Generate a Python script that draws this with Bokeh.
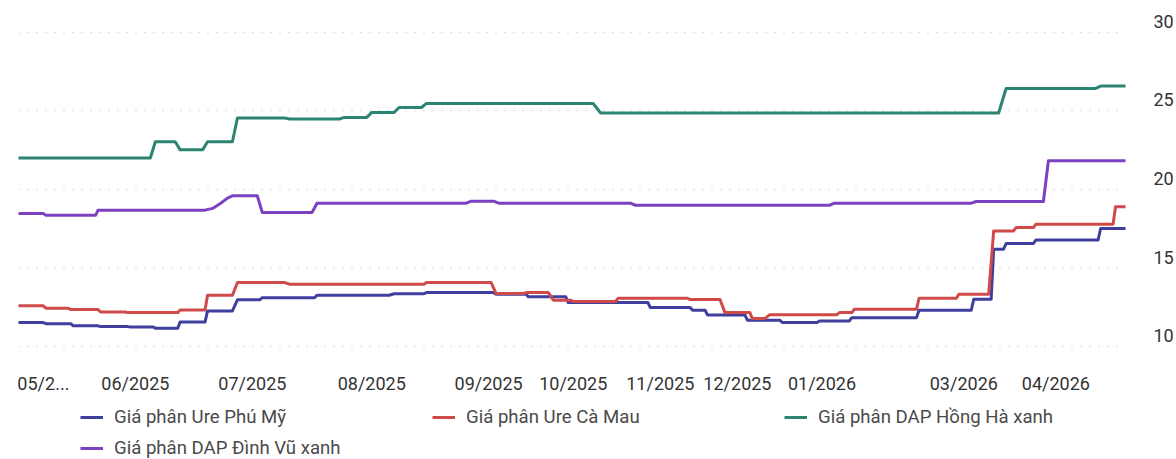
from bokeh.plotting import figure
from bokeh.layouts import column
from bokeh.models import (ColumnDataSource, Range1d, LinearAxis, FixedTicker,
                          Grid, Legend, LegendItem)
from bokeh.embed import file_html
from bokeh.resources import INLINE

# x axis: session index (irregular price-update sessions)
tick_pos = [10, 47, 94, 142, 189, 223, 258, 289, 323, 380, 417]
tick_labels = ["05/2...", "06/2025", "07/2025", "08/2025", "09/2025", "10/2025",
               "11/2025", "12/2025", "01/2026", "03/2026", "04/2026"]
y_ticks = [10, 15, 20, 25, 30]

series_names = ["Giá phân Ure Phú Mỹ", "Giá phân Ure Cà Mau",
                "Giá phân DAP Hồng Hà xanh", "Giá phân DAP Đình Vũ xanh"]
series_colors = ["#3f3f9e", "#d14a4a", "#2b8572", "#7b41c0"]

pm_x = [0, 10, 11, 21, 22, 32, 33, 44, 45, 54, 55, 64, 65, 75, 76, 86, 88, 97, 98, 119,
        120, 149, 151, 163, 164, 191, 192, 204, 205, 220, 221, 253, 254, 270, 271, 276,
        277, 292, 293, 306, 307, 321, 322, 334, 335, 361, 362, 383, 384, 391, 392, 396,
        397, 408, 409, 434, 435, 445]
pm_y = [11.55, 11.55, 11.48, 11.48, 11.34, 11.34, 11.29, 11.29, 11.27, 11.27,
        11.19, 11.19, 11.59, 11.59, 12.29, 12.29, 12.99, 12.99, 13.13, 13.13,
        13.28, 13.28, 13.38, 13.38, 13.45, 13.45, 13.35, 13.35, 13.18, 13.18,
        12.82, 12.82, 12.5, 12.5, 12.33, 12.33, 12.03, 12.03, 11.7, 11.7,
        11.55, 11.55, 11.65, 11.65, 11.86, 11.86, 12.33, 12.33, 13.03, 13.03,
        16.21, 16.21, 16.57, 16.57, 16.8, 16.8, 17.52, 17.52]

cm_x = [0, 10, 11, 20, 21, 32, 33, 43, 44, 64, 65, 75, 76, 86, 88, 107, 109, 163, 164, 190,
        192, 203, 204, 213, 215, 222, 223, 240, 241, 269, 270, 282, 284, 294, 295, 300,
        302, 329, 330, 335, 336, 361, 362, 377, 378, 390, 392, 400, 401, 408, 409, 440,
        441, 445]
cm_y = [12.61, 12.61, 12.46, 12.46, 12.37, 12.37, 12.22, 12.22, 12.18, 12.18,
        12.35, 12.35, 13.28, 13.28, 14.09, 14.09, 13.98, 13.98, 14.09, 14.09,
        13.39, 13.39, 13.45, 13.45, 12.97, 12.97, 12.88, 12.88, 13.09, 13.09,
        13.01, 13.01, 12.18, 12.18, 11.8, 11.8, 12.05, 12.05, 12.18, 12.18,
        12.4, 12.4, 13.09, 13.09, 13.35, 13.35, 17.37, 17.37, 17.58, 17.58,
        17.8, 17.8, 18.9, 18.9]

hh_x = [0, 53, 55, 63, 65, 74, 76, 86, 88, 107, 109, 129, 131, 140, 142, 151, 153, 162,
        164, 231, 234, 394, 397, 433, 435, 445]
hh_y = [22.0, 22.0, 23.03, 23.03, 22.52, 22.52, 23.03, 23.03, 24.54, 24.54,
        24.48, 24.48, 24.58, 24.58, 24.9, 24.9, 25.21, 25.21, 25.47, 25.47,
        24.86, 24.86, 26.42, 26.42, 26.57, 26.57]

dv_x = [0, 10, 11, 31, 32, 75, 78, 81, 84, 86, 96, 98, 118, 120, 180, 182, 191, 193,
        246, 248, 326, 328, 383, 385, 412, 414, 445]
dv_y = [18.47, 18.47, 18.37, 18.37, 18.69, 18.69, 18.8, 19.1, 19.45, 19.6,
        19.6, 18.54, 18.54, 19.13, 19.13, 19.26, 19.26, 19.13, 19.13, 19.0,
        19.0, 19.13, 19.13, 19.24, 19.24, 21.82, 21.82]

FONT = "Roboto"

p = figure(width=1176, height=396, output_backend="svg", toolbar_location=None,
           x_range=Range1d(0, 445), y_range=Range1d(9.9, 30.8),
           x_axis_location=None, y_axis_location=None,
           min_border_left=18, min_border_right=46, min_border_top=19,
           min_border_bottom=48, outline_line_color=None,
           background_fill_color="white", border_fill_color="white")
p.xgrid.visible = False
p.ygrid.visible = False

p.add_layout(Grid(dimension=1, ticker=FixedTicker(ticks=y_ticks),
                  grid_line_color="#c8c8c8", grid_line_dash="1 8",
                  grid_line_width=1.5))

xaxis = LinearAxis(ticker=FixedTicker(ticks=tick_pos),
                   major_label_overrides={t: l for t, l in zip(tick_pos, tick_labels)},
                   axis_line_color=None, major_tick_line_color=None,
                   minor_tick_line_color=None, major_label_standoff=18,
                   major_label_text_font=FONT, major_label_text_font_size="18px",
                   major_label_text_color="#333333")
p.add_layout(xaxis, "below")

p.extra_y_ranges = {"lab": Range1d(9.2, 30.1)}
yaxis = LinearAxis(y_range_name="lab", ticker=FixedTicker(ticks=y_ticks),
                   axis_line_color=None, major_tick_line_color=None,
                   minor_tick_line_color=None, major_label_standoff=22,
                   major_label_text_font=FONT, major_label_text_font_size="18px",
                   major_label_text_color="#333333")
p.add_layout(yaxis, "right")

# legend strip below the chart (same series; its ranges show none of the lines)
lg = figure(width=1176, height=63, output_backend="svg", toolbar_location=None,
            x_range=Range1d(0, 1), y_range=Range1d(0, 1),
            x_axis_location=None, y_axis_location=None,
            min_border_left=0, min_border_right=0, min_border_top=0,
            min_border_bottom=0, outline_line_color=None,
            background_fill_color="white", border_fill_color="white")
lg.xgrid.visible = False
lg.ygrid.visible = False

data = [(pm_x, pm_y), (cm_x, cm_y), (hh_x, hh_y), (dv_x, dv_y)]
items = []
for (xs, ys), name, color in zip(data, series_names, series_colors):
    src = ColumnDataSource(dict(x=xs, y=ys))
    p.line("x", "y", source=src, line_color=color, line_width=3,
           line_join="round", line_cap="round")
    r = lg.line("x", "y", source=src, line_color=color, line_width=3)
    items.append(LegendItem(label=name, renderers=[r]))

legend = Legend(items=items, location=(62, 0), orientation="horizontal", ncols=3,
                label_text_font=FONT, label_text_font_size="18.6px",
                label_text_color="#4a4a4a", glyph_width=23, glyph_height=20,
                label_height=20, label_width=309, label_standoff=11, spacing=9,
                padding=0, margin=0, border_line_color=None,
                background_fill_alpha=0)
lg.add_layout(legend, "center")

layout = column(p, lg, spacing=0)
open("out.html", "w").write(file_html(layout, INLINE))
